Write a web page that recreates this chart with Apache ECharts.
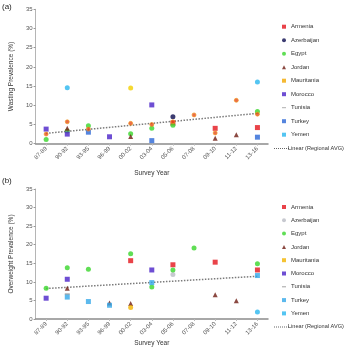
<!DOCTYPE html>
<html><head><meta charset="utf-8">
<script src="https://cdn.jsdelivr.net/npm/echarts@6/dist/echarts.min.js"></script>
<style>html,body{margin:0;padding:0;background:#fff}#c{width:350px;height:348px}</style>
</head><body><div id="c"></div>
<script>
const categories = ['87-89','90-92','93-95','96-99','00-02','03-04','05-06','07-08','09-10','11-12','13-16'];
const countries = ['Armenia','Azerbaijan','Egypt','Jordan','Mauritania','Morocco','Tunisia','Turkey','Yemen'];
const trendName = 'Linear (Regional AVG)';

// Panel (a): Wasting prevalence (%)
const wArmenia    = [null,null,null,null,null,null,5.4,null,4.0,null,4.2];
const wAzerbaijan = [null,null,null,null,null,null,7.0,null,null,null,null];
const wEgypt      = [1.1,3.3,4.7,null,2.6,4.0,4.8,null,null,null,8.4];
const wJordan     = [null,4.0,null,null,1.9,null,null,null,1.4,2.3,null];
const wMauritania = [null,null,null,null,14.5,null,null,null,null,null,null];
const wMorocco    = [3.8,2.5,null,1.8,null,10.1,null,null,null,null,null];
const wTunisia    = [null,null,null,null,null,null,null,null,null,null,null];
const wTurkey     = [null,null,3.0,null,null,0.8,null,null,null,null,1.7];
const wYemen      = [null,14.6,null,null,null,null,null,null,null,null,16.1];
const wRegionalAvg = [2.5,5.7,3.8,null,5.3,5.0,5.7,7.5,2.8,11.3,7.7];
const wTrend = [2.7,7.9];

// Panel (b): Overweight prevalence (%)
const oArmenia    = [null,null,null,null,15.7,null,14.6,null,15.3,null,13.2];
const oAzerbaijan = [null,null,null,null,null,null,12.0,null,null,null,null];
const oEgypt      = [8.3,13.8,13.4,null,17.6,8.6,13.2,19.1,null,null,14.9];
const oJordan     = [null,8.3,null,4.3,4.2,null,null,null,6.5,4.9,null];
const oMauritania = [null,null,null,null,3.1,null,null,null,null,null,null];
const oMorocco    = [5.6,10.7,null,null,null,13.2,null,null,null,null,null];
const oTunisia    = [null,6.7,null,null,null,null,null,null,null,null,null];
const oTurkey     = [null,5.9,4.7,3.7,null,9.8,null,null,null,null,11.7];
const oYemen      = [null,null,null,null,null,null,null,null,null,null,1.9];
const oTrend = [8.2,11.5];

const wData = [wArmenia,wAzerbaijan,wEgypt,wJordan,wMauritania,wMorocco,wTunisia,wTurkey,wYemen];
const oData = [oArmenia,oAzerbaijan,oEgypt,oJordan,oMauritania,oMorocco,oTunisia,oTurkey,oYemen];

const dash = 'path://M0,0H6V2H0Z';
const symbols = ['rect','circle','circle','triangle','circle','rect',dash,'rect','circle'];
const sizes = [5,5,5,5,5,5,[5,1.5],5,5];
const colorsA = ['#e3141b','#0b0b4d','#38d62a','#6e1b12','#f2d000','#4a22c8','#9a9a9a','#2b66d6','#29b6ef'];
const colorsB = ['#e3141b','#b9bcc4','#38d62a','#6e1b12','#f2b400','#4a22c8','#8a8a8a','#33a8e8','#29b6ef'];
const legendColorsA = ['#e3141b','#0b0b4d','#38d62a','#6e1b12','#f2a800','#4a22c8','#9a9a9a','#2b66d6','#29b6ef'];
const legendIcons = ['rect','circle','circle','triangle','rect','rect','path://M0,1.5H4V2.5H0Z','rect','rect'];

function pts(arr){ const out=[]; arr.forEach((v,i)=>{ if(v!==null) out.push([categories[i], v]); }); return out; }

const FONT = 'Liberation Sans';
const series = [];
countries.forEach((c,i)=>{
  series.push({type:'scatter', name:c, xAxisIndex:0, yAxisIndex:0, symbol:symbols[i], symbolSize:sizes[i],
    itemStyle:{color:colorsA[i]}, data:pts(wData[i]), z:3});
});
series.push({type:'scatter', name:'Regional AVG', xAxisIndex:0, yAxisIndex:0, symbol:'circle', symbolSize:4,
  itemStyle:{color:'#e5481c', borderColor:'#f39a1a', borderWidth:0.8}, data:pts(wRegionalAvg), z:4});
series.push({type:'line', name:trendName, xAxisIndex:0, yAxisIndex:0, symbol:'none', silent:true,
  lineStyle:{type:'dotted', color:'#7a7a7a', width:1.5},
  data:[[categories[0], wTrend[0]],[categories[categories.length-1], wTrend[1]]], z:2});
countries.forEach((c,i)=>{
  series.push({type:'scatter', name:c, xAxisIndex:1, yAxisIndex:1, symbol:symbols[i], symbolSize:sizes[i],
    itemStyle:{color:colorsB[i]}, data:pts(oData[i]), z:3});
});
series.push({type:'line', name:trendName, xAxisIndex:1, yAxisIndex:1, symbol:'none', silent:true,
  lineStyle:{type:'dotted', color:'#7a7a7a', width:1.5},
  data:[[categories[0], oTrend[0]],[categories[categories.length-1], oTrend[1]]], z:2});

const legendText = {fontFamily:FONT, fontSize:6, color:'#333', lineHeight:8};
function countryLegend(top, cols, gap){
  const data = countries.map((c,i)=>({name:c, icon:legendIcons[i], itemStyle:{color:cols[i]}}));
  return {orient:'vertical', left:282, top:top, padding:0, itemWidth:4, itemHeight:4, itemGap:gap,
    selectedMode:false, data:data, textStyle:legendText};
}
function trendLegend(top){
  return {orient:'vertical', left:274, top:top, padding:0, itemWidth:14, itemHeight:4,
    selectedMode:false, data:[{name:trendName, icon:'path://M0,0H1V1H0Z', itemStyle:{opacity:0}}],
    textStyle:{fontFamily:FONT, fontSize:5.6, color:'#333', lineHeight:8}};
}

function xAxis(idx, gap){
  return {type:'category', gridIndex:idx, data:categories, boundaryGap:true,
    name:'Survey Year', nameLocation:'middle', nameGap:gap,
    nameTextStyle:{fontFamily:FONT, fontSize:6.5, color:'#333'},
    axisLine:{lineStyle:{color:'#8c8c8c', width:1.5}},
    axisTick:{show:true, alignWithLabel:true, length:2, lineStyle:{color:'#bbb'}},
    axisLabel:{rotate:45, fontFamily:FONT, fontSize:6, color:'#555', margin:4},
    splitLine:{show:false}};
}
function yAxis(idx, name){
  return {type:'value', gridIndex:idx, min:0, max:35, interval:5,
    name:name, nameLocation:'middle', nameGap:15,
    nameTextStyle:{fontFamily:FONT, fontSize:6.5, color:'#333'},
    axisLine:{show:true, lineStyle:{color:'#b5b5b5', width:1}},
    axisTick:{show:true, length:2, lineStyle:{color:'#999'}},
    axisLabel:{fontFamily:FONT, fontSize:6, color:'#555', margin:3},
    splitLine:{show:false}};
}

const chart = echarts.init(document.getElementById('c'), null, {renderer:'canvas'});
chart.setOption({
  animation:false,
  backgroundColor:'#fff',
  textStyle:{fontFamily:FONT},
  graphic:[
    {type:'text', left:2, top:3, style:{text:'(a)', fontFamily:FONT, fontSize:8, fill:'#222'}},
    {type:'text', left:2, top:177, style:{text:'(b)', fontFamily:FONT, fontSize:8, fill:'#222'}},
    {type:'line', shape:{x1:274, y1:148.5, x2:290, y2:148.5}, style:{stroke:'#666', lineWidth:1, lineDash:[1,1]}},
    {type:'line', shape:{x1:274, y1:327, x2:290, y2:327}, style:{stroke:'#666', lineWidth:1, lineDash:[1,1]}}
  ],
  grid:[
    {left:22, top:9.3, width:246, height:134.4},
    {left:22, top:189, width:246, height:133.7}
  ],
  xAxis:[xAxis(0,26), xAxis(1,21)],
  yAxis:[yAxis(0,'Wasting Prevalence (%)'), yAxis(1,'Overweight Prevalence (%)')],
  legend:[countryLegend(22.7, legendColorsA, 5.5), trendLegend(144.3),
          countryLegend(203, colorsB, 5.3), trendLegend(322.7)],
  series:series
});
</script></body></html>
